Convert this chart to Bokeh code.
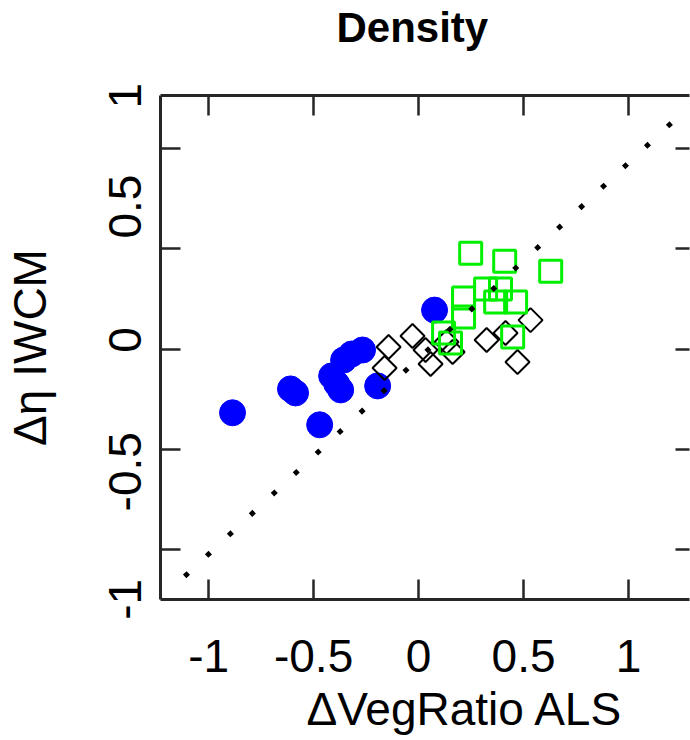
import math
from bokeh.plotting import figure
from bokeh.models import Range1d, FixedTicker, LinearAxis, CustomJSTickFormatter, Title
from bokeh.embed import file_html
from bokeh.resources import INLINE

# ---------------- data ----------------
blue_x = [-0.886, -0.610, -0.586, -0.471, -0.414, -0.390, -0.371, -0.357, -0.319, -0.267, -0.195, 0.076]
blue_y = [-0.318, -0.199, -0.219, -0.378, -0.134, -0.174, -0.204, -0.055, -0.025, -0.005, -0.184, 0.194]

green_x = [0.248, 0.410, 0.629, 0.214, 0.319, 0.390, 0.367, 0.462, 0.214, 0.119, 0.152, 0.448]
green_y = [0.478, 0.438, 0.388, 0.254, 0.299, 0.299, 0.234, 0.234, 0.159, 0.080, 0.030, 0.060]

black_x = [-0.143, -0.162, -0.029, 0.033, 0.057, 0.133, 0.162, 0.324, 0.414, 0.533, 0.471]
black_y = [0.010, -0.095, 0.065, -0.005, -0.075, 0.035, -0.015, 0.045, 0.080, 0.144, -0.065]

ref_line_x = [-1.114, 1.257]
ref_line_y = [-1.134, 1.179]

ticks = [-1, -0.5, 0, 0.5, 1]
x_tick_labels = ["-1", "-0.5", "0", "0.5", "1"]
y_tick_labels = ["1", "0.5", "0", "-0.5", "-1"]

title_text = "Density"
x_label = "\u0394VegRatio ALS"
y_label = "\u0394\u03b7 IWCM"

# ---------------- layout / style ----------------
FONT = "Liberation Sans"
AXIS_COLOR = "#262626"
Y0, Y1 = -1.249, 1.264
# where the (shifted) y tick labels sit in the reference, in data units
y_tick_label_pos = [1.263, 0.71, 0.045, -0.612, -1.248]

p = figure(width=690, height=740,
           x_range=Range1d(-1.229, 1.290), y_range=Range1d(Y0, Y1),
           output_backend="svg", toolbar_location=None,
           min_border_left=160, min_border_right=1,
           min_border_top=95, min_border_bottom=140)

p.grid.visible = False
p.outline_line_color = None
p.background_fill_color = "white"
p.border_fill_color = "white"

p.title.text = title_text
p.title.text_font = FONT
p.title.text_font_size = "42px"
p.title.text_font_style = "bold"
p.title.text_color = "black"
p.title.align = "left"
p.title.offset = 176
p.title.standoff = 2


def style_axis(ax, tick_in=20):
    ax.ticker = FixedTicker(ticks=ticks)
    ax.major_tick_in = tick_in
    ax.major_tick_out = 0
    ax.minor_tick_line_color = None
    ax.major_tick_line_width = 2.5
    ax.major_tick_line_color = AXIS_COLOR
    ax.axis_line_width = 3
    ax.axis_line_color = AXIS_COLOR


def hide_labels(ax, standoff=0, fill=""):
    ax.formatter = CustomJSTickFormatter(code="return '%s'" % fill)
    ax.major_label_text_font_size = "0px" if not fill else "10px"
    ax.major_label_standoff = standoff


xa = p.xaxis[0]
style_axis(xa)
xa.major_label_overrides = {float(t): s for t, s in zip(ticks, x_tick_labels)}
xa.major_label_text_font = FONT
xa.major_label_text_font_size = "46px"
xa.major_label_text_color = "black"
xa.major_label_standoff = 40

ya = p.yaxis[0]
style_axis(ya)
hide_labels(ya)

# y tick labels (shifted from the ticks as in the reference): label-only axis
ylab = LinearAxis(ticker=FixedTicker(ticks=y_tick_label_pos))
ylab.major_label_overrides = {float(v): s for v, s in zip(y_tick_label_pos, y_tick_labels)}
ylab.major_label_orientation = "vertical"
ylab.major_label_text_font = FONT
ylab.major_label_text_font_size = "46px"
ylab.major_label_text_color = "black"
ylab.major_label_standoff = 19
ylab.axis_line_color = None
ylab.major_tick_line_color = None
ylab.minor_tick_line_color = None
ylab.major_tick_in = 0
ylab.major_tick_out = 0
ylab.axis_label = y_label
ylab.axis_label_text_font = FONT
ylab.axis_label_text_font_size = "46px"
ylab.axis_label_text_font_style = "normal"
ylab.axis_label_text_color = "black"
ylab.axis_label_standoff = 51
p.add_layout(ylab, "left")

# top frame edge; blank labels keep the title clear of the frame
top = LinearAxis()
style_axis(top)
hide_labels(top, standoff=30, fill=" ")
p.add_layout(top, "above")

right = LinearAxis()
style_axis(right, tick_in=14)
hide_labels(right)
right.axis_line_color = None
p.add_layout(right, "right")

# x axis title (shifted right of centre, as in the reference)
p.add_layout(Title(text=x_label, align="left", offset=146, standoff=12,
                   text_font=FONT, text_font_size="46px",
                   text_font_style="normal", text_color="black"), "below")

# ---------------- marks ----------------
p.scatter(blue_x, blue_y, marker="circle", size=26,
          fill_color="#0000ff", line_color="#0000ff", line_width=1)
p.scatter(black_x, black_y, marker="square", angle=math.pi / 4, size=17,
          fill_color=None, line_color="black", line_width=2)
p.scatter(green_x, green_y, marker="square", size=22,
          fill_color=None, line_color="#00f000", line_width=3)
p.line(ref_line_x, ref_line_y, line_color="black", line_width=5,
       line_dash="5 25", line_cap="butt")

open("out.html", "w").write(file_html(p, INLINE))
